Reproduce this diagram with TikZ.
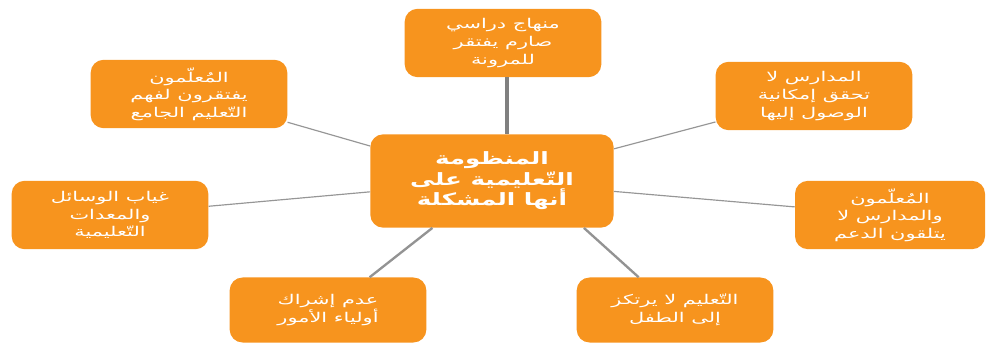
\documentclass[tikz,border=0pt]{standalone}
\usepackage{graphicx}
\usepackage{fontspec}
\newfontfamily\arabicfont[Script=Arabic]{DejaVu Sans}
\TeXXeTstate=1
\usetikzlibrary{positioning}
\definecolor{boxorange}{RGB}{247,148,30}
\definecolor{linegray}{RGB}{150,150,150}
\newcommand{\arstretch}{1.55}
\newcommand{\arline}[1]{\scalebox{\arstretch}[1]{\beginR #1\endR}}
\newcommand{\tightlines}{\lineskiplimit=-20pt\relax}
\newcommand{\corestretch}{\renewcommand{\arstretch}{1.45}}
\tikzset{
  issue/.style={
    rectangle,
    rounded corners=11pt,
    fill=boxorange,
    text=white,
    align=center,
    font={\arabicfont\fontsize{11.5}{15}\selectfont\tightlines},
    minimum width=5.9cm,
    minimum height=2.05cm,
    inner sep=2pt
  },
  core/.style={
    issue,
    font={\arabicfont\bfseries\fontsize{14.5}{17.5}\selectfont\tightlines\corestretch},
    minimum width=7.3cm,
    minimum height=2.8cm
  },
  spoke/.style={
    draw=linegray,
    line width=1pt
  },
  main spoke/.style={
    draw=gray,
    line width=3.2pt
  },
  low spoke/.style={
    draw=gray!85,
    line width=2pt
  }
}

\begin{document}
\begin{tikzpicture}[x=0.03cm, y=-0.03cm]
    \useasboundingbox (0,0) rectangle (988,345);

    % --- العقدة المركزية ---
    \node[core] (centre) at (492,181)
      {\arline{المنظومة}\\\arline{التّعليمية على}\\\arline{أنها المشكلة}};

    % --- العقد المحيطة ---
    \node[issue] (top) at (503,43)
      {\arline{منهاج دراسي}\\\arline{صارم يفتقر}\\\arline{للمرونة}};
    \node[issue] (topleft) at (189,94)
      {\arline{المُعلّمون}\\\arline{يفتقرون لفهم}\\\arline{التّعليم الجامع}};
    \node[issue] (topright) at (814,96)
      {\arline{المدارس لا}\\\arline{تحقق إمكانية}\\\arline{الوصول إليها}};
    \node[issue] (left) at (110,215)
      {\arline{غياب الوسائل}\\\arline{والمعدات}\\\arline{التّعليمية}};
    \node[issue, minimum width=5.7cm] (right) at (890,215)
      {\arline{المُعلّمون}\\\arline{والمدارس لا}\\\arline{يتلقون الدعم}};
    \node[issue, minimum height=1.95cm] (botleft) at (328,310)
      {\arline{عدم إشراك}\\\arline{أولياء الأمور}};
    \node[issue, minimum height=1.95cm] (botright) at (675,310)
      {\arline{التّعليم لا يرتكز}\\\arline{إلى الطفل}};

    % --- الروابط ---
    \draw[main spoke] (top.south -| 507,0) -- (centre.north -| 507,0);
    \draw[spoke] (centre) -- (topleft);
    \draw[spoke] (centre) -- (topright);
    \draw[spoke] (centre) -- (left);
    \draw[spoke] (centre) -- (right);
    \draw[low spoke] (centre) -- (botleft);
    \draw[low spoke] (centre.south east) ++(-30,0) -- (botright);
\end{tikzpicture}
\end{document}
